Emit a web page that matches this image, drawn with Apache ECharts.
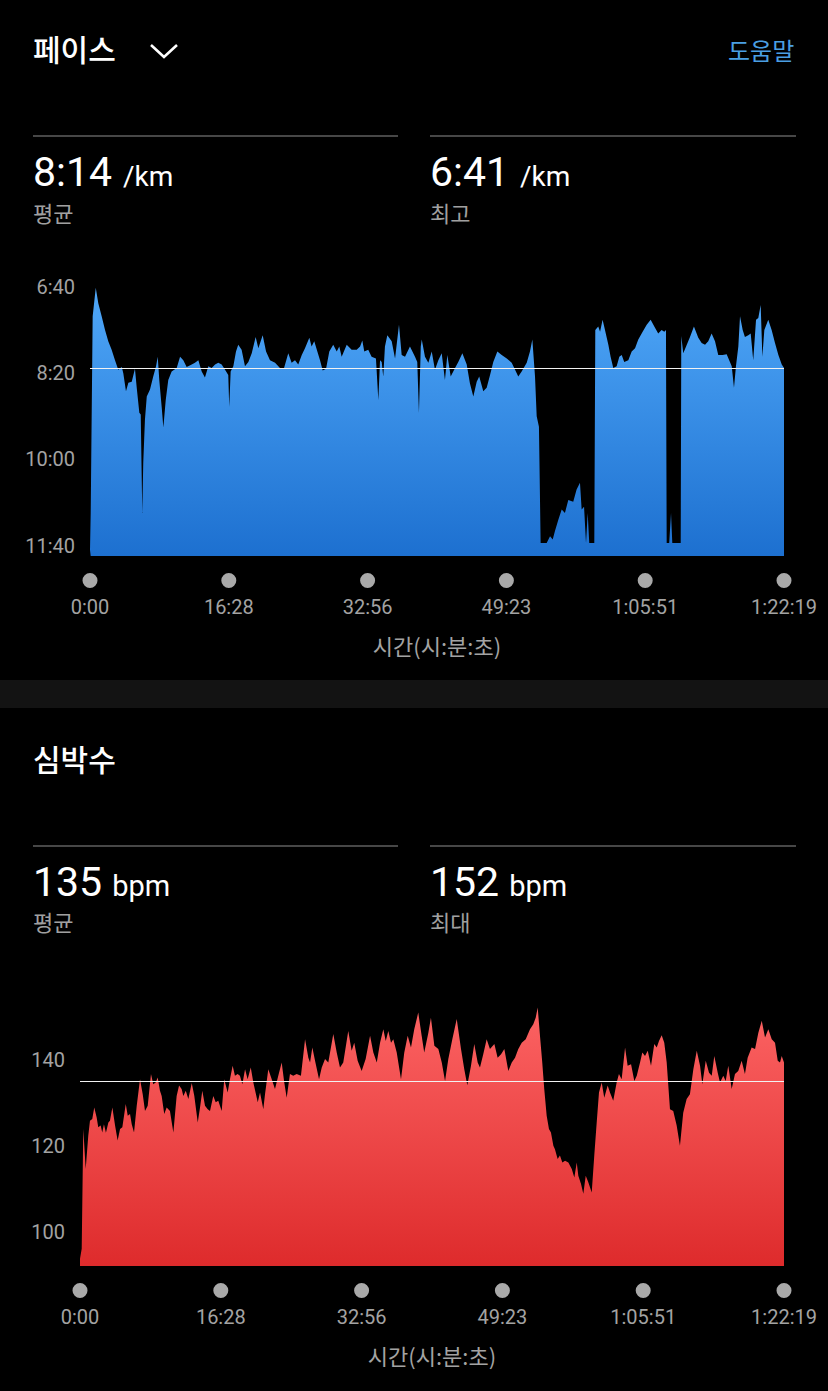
<!DOCTYPE html>
<html><head><meta charset="utf-8">
<script src="https://cdn.jsdelivr.net/npm/echarts@6/dist/echarts.min.js"></script>
<style>
html,body{margin:0;padding:0;background:#000;width:828px;height:1391px;overflow:hidden}
#chart{position:absolute;left:0;top:0;width:828px;height:1391px}
.t{position:absolute;white-space:nowrap;line-height:1}
.ko{font-family:"Noto Sans CJK KR",sans-serif}
.num{font-family:Roboto,sans-serif;color:#fff;font-size:41px}
.num span{font-size:28px;margin-left:11px}
.num span.b{font-size:29px;margin-left:10px}
.sub{color:#a0a0a0;font-size:22px}
.rule{position:absolute;height:2px;background:#474747}
.head{font-size:30px;font-weight:500;color:#fff}
</style></head><body>
<div style="position:absolute;left:0;top:680px;width:828px;height:28px;background:#131313"></div>
<div id="chart"></div>

<div class="t ko head" style="left:33px;top:33px">페이스</div>
<svg style="position:absolute;left:149px;top:43px" width="30" height="17"><polyline points="2,2 15,14 28,2" fill="none" stroke="#fff" stroke-width="2.6"/></svg>
<div class="t ko" style="left:728px;top:38px;font-size:24px;color:#4A9FE3">도움말</div>
<div class="rule" style="left:33px;top:135px;width:365px"></div>
<div class="rule" style="left:430px;top:135px;width:366px"></div>
<div class="t num" style="left:33px;top:152px">8:14<span>/km</span></div>
<div class="t ko sub" style="left:33px;top:201px">평균</div>
<div class="t num" style="left:430px;top:152px">6:41<span>/km</span></div>
<div class="t ko sub" style="left:430px;top:201px">최고</div>

<div class="t ko head" style="left:33px;top:743px">심박수</div>
<div class="rule" style="left:33px;top:845px;width:365px"></div>
<div class="rule" style="left:430px;top:845px;width:366px"></div>
<div class="t num" style="left:33px;top:862px">135<span class="b">bpm</span></div>
<div class="t ko sub" style="left:33px;top:910px">평균</div>
<div class="t num" style="left:430px;top:862px">152<span class="b">bpm</span></div>
<div class="t ko sub" style="left:430px;top:910px">최대</div>

<script>
// ---- data ----
const totalSeconds = 4939;
const timeTickLabels = ['0:00', '16:28', '32:56', '49:23', '1:05:51', '1:22:19'];
const paceTicks = [400, 500, 600, 700];
const hrTicks = [100, 120, 140];
const paceAvg = 494;   // 8:14 /km
const hrAvg = 135;

const paceTimes = [
  0,5,19,41,59,83,107,130,154,178,
  201,226,237,256,273,297,320,332,351,361,
  372,379,391,404,427,450,470,482,493,510,
  522,539,557,581,617,641,664,688,724,747,
  771,795,818,842,866,890,913,937,961,984,
  991,1001,1020,1039,1055,1079,1103,1127,1151,1179,
  1198,1229,1253,1281,1317,1352,1381,1411,1435,1459,
  1482,1507,1530,1561,1577,1596,1618,1637,1656,1680,
  1703,1731,1756,1774,1791,1827,1862,1898,1922,1938,
  1952,1980,2004,2035,2052,2064,2076,2087,2099,2116,
  2147,2171,2199,2218,2242,2277,2313,2329,2341,2354,
  2361,2384,2408,2432,2455,2479,2503,2526,2543,2567,
  2598,2621,2650,2681,2704,2728,2752,2770,2799,2823,
  2847,2870,2899,2930,2966,3001,3025,3048,3072,3108,
  3131,3148,3167,3179,3195,3207,3250,3274,3293,3309,
  3333,3357,3380,3404,3439,3463,3487,3499,3516,3530,
  3542,3553,3589,3596,3617,3630,3648,3665,3689,3705,
  3724,3748,3767,3784,3802,3831,3855,3879,3902,3933,
  3962,3990,4016,4044,4068,4087,4099,4104,4122,4135,
  4144,4204,4208,4222,4242,4270,4298,4329,4353,4377,
  4400,4424,4448,4471,4502,4531,4549,4567,4583,4597,
  4614,4626,4645,4661,4685,4702,4720,4740,4756,4773,
  4785,4799,4827,4851,4875,4899,4923,4939
];
const paceValues = [
  705,662,434,401,419,434,450,463,473,485,
  496,493,500,521,511,510,495,516,546,548,
  662,604,554,527,519,504,492,481,508,539,
  563,531,508,498,494,481,485,493,490,488,
  485,498,505,492,494,490,488,490,496,502,
  539,498,492,475,467,473,492,487,477,458,
  471,456,475,485,488,494,494,477,488,485,
  490,479,471,459,469,463,475,485,497,495,
  475,467,475,469,481,467,473,473,469,462,
  475,473,481,483,531,485,487,504,469,456,
  463,483,444,479,481,469,481,487,546,469,
  461,481,488,475,496,485,477,508,479,504,
  494,487,477,490,512,527,510,504,521,517,
  502,487,475,479,483,488,496,504,498,488,
  475,461,504,550,562,697,697,689,693,683,
  670,658,662,647,649,635,627,658,655,697,
  662,697,697,450,446,452,438,450,467,481,
  494,492,481,479,487,485,475,471,461,452,
  444,438,446,454,450,452,450,697,697,662,
  697,697,457,477,469,458,446,459,465,467,
  463,454,463,479,479,478,485,492,517,492,
  469,434,450,458,456,454,485,438,436,421,
  481,450,438,450,465,479,490,494
];

const hrTimes = [
  0,12,23,40,58,70,86,100,117,128,
  145,156,168,182,199,210,227,246,264,281,
  297,321,335,351,363,379,398,421,440,456,
  475,498,514,531,545,561,573,591,608,631,
  655,678,695,713,725,742,760,784,802,826,
  842,858,877,896,912,935,952,970,994,1012,
  1036,1052,1071,1087,1106,1122,1139,1158,1176,1198,
  1216,1247,1263,1286,1298,1321,1345,1368,1391,1415,
  1433,1450,1473,1496,1520,1550,1579,1602,1614,1630,
  1649,1677,1696,1719,1742,1777,1801,1824,1847,1882,
  1906,1924,1948,1976,2004,2035,2058,2082,2105,2128,
  2145,2163,2182,2198,2222,2252,2275,2299,2322,2345,
  2373,2397,2415,2444,2462,2486,2514,2538,2561,2584,
  2612,2643,2673,2696,2717,2743,2766,2790,2806,2829,
  2853,2876,2907,2930,2954,2977,3005,3029,3052,3075,
  3099,3127,3157,3180,3197,3211,3227,3243,3257,3274,
  3290,3304,3321,3332,3351,3367,3384,3403,3426,3450,
  3468,3485,3496,3515,3531,3548,3566,3590,3608,3625,
  3641,3660,3678,3702,3718,3741,3765,3781,3800,3824,
  3842,3866,3889,3906,3929,3945,3964,3983,4006,4029,
  4046,4062,4081,4099,4116,4139,4162,4186,4209,4232,
  4256,4279,4303,4327,4350,4366,4390,4413,4432,4450,
  4474,4490,4513,4530,4548,4572,4595,4618,4642,4665,
  4684,4712,4736,4759,4783,4806,4829,4853,4876,4895,
  4911,4923,4939
];
const hrValues = [
  93.7,96,123.9,114.6,122.3,125.8,126.2,128.9,126.6,124.3,
  124.7,123.1,125,123,125.4,125.8,128.9,124.7,121.2,123.9,
  124.3,129.7,127,127.4,125,123.1,129.3,135.5,132,128.1,
  129.3,136.7,134.3,134.7,135.9,132.8,131.6,127.4,128.9,128.1,
  123.1,131.6,134,133.2,131.6,132.8,130.9,134.6,131.6,125.4,
  128.9,132.8,129.3,128.5,128.1,131.6,130.1,130.5,128.1,135.5,
  132.4,135.5,138.6,136.3,136.7,136.3,134.3,137.8,135.5,138.2,
  134.7,130.1,132.4,128.5,132,137.8,135.5,133.2,136.3,139.4,
  134.7,131.2,136.7,136.3,136.7,136.3,144.8,140.5,139.4,142.9,
  139.8,135.5,138.2,140.2,139.4,146,141.7,138.2,139.4,146.7,
  142.1,144,139.8,137.4,140.2,145.6,141.7,139.4,144,147.1,
  144.4,146.7,144,144.8,141.7,135.5,141.7,145.6,142.9,147.1,
  151,145.6,141.7,146.3,149.8,143.3,142.5,139.4,135.1,140.2,
  144.8,149.5,142.5,137.8,134.1,138.6,143.7,139.4,138.2,141.3,
  144.8,142.5,143.7,140.5,141.3,142.5,137.4,139.4,140.5,142.5,
  144,144.8,147.1,148.3,149.8,152.2,145.6,139.4,133.2,127,
  123.9,123.1,120,119.2,116.9,117.7,116.1,116.5,116.1,114.6,
  112.6,116.1,113,111.1,108.8,113,111.5,109.1,117.7,125.4,
  132.4,134.7,131.2,134,132.4,130.5,134.7,136.7,135.5,142.9,
  138.6,139,135.1,136.3,139.4,141.7,140.9,142.1,138.6,143.7,
  142.9,144.4,145.7,144,139.4,128.5,128.1,124.7,120,127.7,
  130.9,132,137.8,142.1,138.6,134.3,139.8,137,136.3,140.9,
  137,134.7,136.3,135.1,138.6,133.2,136.7,137.4,139.8,136.7,
  140.5,142.9,142.5,146.3,149.1,145.2,147.1,144.8,144,139.8,
  139.4,140.9,139.4
];

// ---- chart ----
const tickPositions = timeTickLabels.map((_, i) => i * totalSeconds / (timeTickLabels.length - 1));
const zip = (a, b) => a.slice(0, Math.min(a.length, b.length)).map((t, i) => [t, b[i]]);
const fmtPace = v => Math.floor(v / 60) + ':' + String(Math.round(v % 60)).padStart(2, '0');
const grey = '#a3a3a3';

function timeAxis(gridIndex) {
  return {
    type: 'value', gridIndex, min: 0, max: totalSeconds,
    axisLine: { show: false }, axisTick: { show: false }, splitLine: { show: false },
    axisLabel: {
      customValues: tickPositions, showMinLabel: true, showMaxLabel: true, hideOverlap: false,
      margin: 17,
      formatter: v => {
        let idx = 0, best = Infinity;
        tickPositions.forEach((p, i) => { if (Math.abs(p - v) < best) { best = Math.abs(p - v); idx = i; } });
        return '{dot|}\n{t|' + timeTickLabels[idx] + '}';
      },
      rich: {
        dot: { width: 15, height: 15, borderRadius: 8, backgroundColor: '#a9a9a9', align: 'center' },
        t: { fontSize: 20, color: grey, lineHeight: 37, fontFamily: 'Roboto', align: 'center' }
      }
    },
    name: '시간(시:분:초)', nameLocation: 'middle', nameGap: 78,
    nameTextStyle: { color: grey, fontSize: 22, fontFamily: 'Noto Sans CJK KR' }
  };
}

const avgLine = v => ({
  symbol: 'none', silent: true, label: { show: false },
  lineStyle: { color: '#f2f2f2', width: 1, type: 'solid' },
  data: [{ yAxis: v }]
});

const chart = echarts.init(document.getElementById('chart'), null, { renderer: 'svg' });
chart.setOption({
  backgroundColor: 'transparent',
  animation: false,
  grid: [
    { left: 90, right: 44, top: 280, height: 276 },
    { left: 80, right: 44, top: 1004, height: 262 }
  ],
  xAxis: [timeAxis(0), timeAxis(1)],
  yAxis: [
    {
      type: 'value', gridIndex: 0, inverse: true, min: 392, max: 712,
      axisLine: { show: false }, axisTick: { show: false }, splitLine: { show: false },
      axisLabel: { customValues: paceTicks, formatter: fmtPace, color: grey, fontSize: 20, margin: 15, fontFamily: 'Roboto' }
    },
    {
      type: 'value', gridIndex: 1, min: 92, max: 153,
      axisLine: { show: false }, axisTick: { show: false }, splitLine: { show: false },
      axisLabel: { customValues: hrTicks, color: grey, fontSize: 20, margin: 15, fontFamily: 'Roboto' }
    }
  ],
  series: [
    {
      type: 'line', xAxisIndex: 0, yAxisIndex: 0, data: zip(paceTimes, paceValues),
      symbol: 'none', sampling: null, lineStyle: { width: 0, opacity: 0 },
      areaStyle: {
        origin: 'end', opacity: 1,
        color: new echarts.graphic.LinearGradient(0, 0, 0, 1, [
          { offset: 0, color: '#4FA7F8' }, { offset: 1, color: '#1D70D0' }
        ])
      },
      markLine: avgLine(paceAvg)
    },
    {
      type: 'line', xAxisIndex: 1, yAxisIndex: 1, data: zip(hrTimes, hrValues),
      symbol: 'none', sampling: null, lineStyle: { width: 0, opacity: 0 },
      areaStyle: {
        origin: 'start', opacity: 1,
        color: new echarts.graphic.LinearGradient(0, 0, 0, 1, [
          { offset: 0, color: '#FC6363' }, { offset: 1, color: '#DE2B2C' }
        ])
      },
      markLine: avgLine(hrAvg)
    }
  ]
});
</script>
</body></html>
